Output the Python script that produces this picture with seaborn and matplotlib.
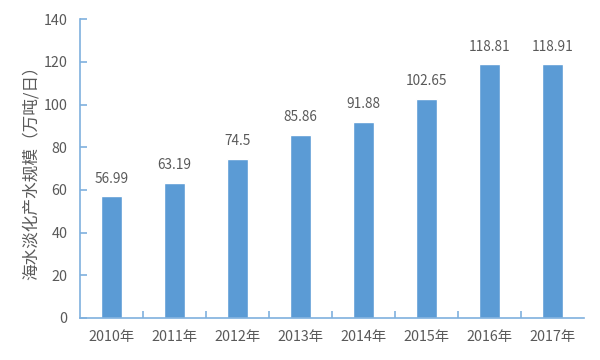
import matplotlib
matplotlib.use("Agg")
import matplotlib.pyplot as plt
import seaborn as sns
import pandas as pd

years = ["2010年", "2011年", "2012年", "2013年", "2014年", "2015年", "2016年", "2017年"]
values = [56.99, 63.19, 74.5, 85.86, 91.88, 102.65, 118.81, 118.91]
value_labels = ["56.99", "63.19", "74.5", "85.86", "91.88", "102.65", "118.81", "118.91"]
y_ticks = [0, 20, 40, 60, 80, 100, 120, 140]

sns.set_style("white")
plt.rcParams['font.family'] = ['Noto Sans CJK SC', 'DejaVu Sans']

df = pd.DataFrame({"year": years, "value": values})

fig = plt.figure(figsize=(6, 3.6), dpi=100)
ax = fig.add_axes([0.1333, 0.1167, 0.84, 0.83])

bar_color = "#5B9BD5"
axis_color = "#7FB0DE"
text_color = "#595959"

sns.barplot(data=df, x="year", y="value", color=bar_color, width=0.32,
            saturation=1, ax=ax)

for i, (v, lab) in enumerate(zip(values, value_labels)):
    ax.text(i, v + 5, lab, ha="center", va="bottom", fontsize=9.8, color=text_color)

ax.set_xlim(-0.5, len(years) - 0.5)
ax.set_ylim(0, 140)
ax.set_yticks(y_ticks)
ax.set_yticklabels([str(t) for t in y_ticks], fontsize=10.3, color=text_color)
ax.set_xticks(range(len(years)))
ax.set_xticklabels(years, fontsize=10.3, color=text_color)
ax.tick_params(axis="x", which="major", bottom=True, length=0, pad=9)
ax.tick_params(axis="y", left=True, direction="in", length=5, width=1.2,
               color=axis_color, pad=9)
# minor ticks at category boundaries on x axis
ax.set_xticks([i + 0.5 for i in range(len(years) - 1)], minor=True)
ax.tick_params(axis="x", which="minor", bottom=True, direction="in", length=5,
               width=1.2, color=axis_color)

ax.set_xlabel("")
ax.set_ylabel("海水淡化产水规模（万吨/日）", fontsize=12, color=text_color, labelpad=3)

for s in ["top", "right"]:
    ax.spines[s].set_visible(False)
for s in ["left", "bottom"]:
    ax.spines[s].set_color(axis_color)
    ax.spines[s].set_linewidth(1.2)

fig.savefig("out.png", dpi=100)
